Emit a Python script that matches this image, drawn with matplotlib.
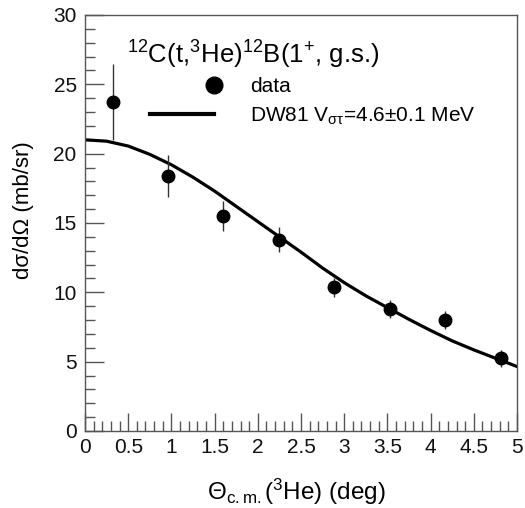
import numpy as np
import matplotlib
matplotlib.use("Agg")
import matplotlib.pyplot as plt
from matplotlib.lines import Line2D
from matplotlib.legend_handler import HandlerLine2D
from matplotlib.ticker import MultipleLocator, FuncFormatter

plt.rcParams['font.family'] = ['Liberation Sans', 'DejaVu Sans']
plt.rcParams['mathtext.fontset'] = 'custom'
plt.rcParams['mathtext.rm'] = 'Liberation Sans'
plt.rcParams['mathtext.it'] = 'Liberation Sans'
plt.rcParams['mathtext.default'] = 'regular'

# data points
theta = [0.32, 0.96, 1.60, 2.25, 2.88, 3.53, 4.17, 4.82]
xsec = [23.7, 18.4, 15.5, 13.8, 10.35, 8.8, 8.0, 5.25]
xsec_err = [2.75, 1.5, 1.1, 0.9, 0.7, 0.65, 0.65, 0.6]

# DW81 curve
curve_theta = [0.0, 0.25, 0.5, 0.75, 1.0, 1.25, 1.5, 1.75, 2.0, 2.25, 2.5,
               2.75, 3.0, 3.25, 3.5, 3.75, 4.0, 4.25, 4.5, 4.75, 5.0]
curve_xsec = [21.0, 20.9, 20.55, 19.95, 19.2, 18.3, 17.3, 16.2, 15.1, 14.0, 12.9,
              11.75, 10.7, 9.75, 8.9, 8.05, 7.25, 6.5, 5.85, 5.25, 4.65]

title = r'$^{12}$C(t,$^{3}$He)$^{12}$B(1$^{+}$, g.s.)'
label_data = 'data'
label_curve = r'DW81 V$_{\mathregular{στ}}$=4.6$\pm$0.1 MeV'

fig = plt.figure(figsize=(5.25, 5.08), dpi=100)
ax = fig.add_axes([85/525, 1-431/508, (517-85)/525, (431-15)/508])

ax.errorbar(theta, xsec, yerr=xsec_err, fmt='o', color='black', ms=9,
            ecolor='#333333', elinewidth=1.0, capsize=0, zorder=3)
ax.plot(curve_theta, curve_xsec, color='black', lw=2.3, zorder=2)

ax.set_xlim(0, 5)
ax.set_ylim(0, 30)
ax.xaxis.set_major_locator(MultipleLocator(0.5))
ax.xaxis.set_minor_locator(MultipleLocator(0.1))
ax.yaxis.set_major_locator(MultipleLocator(5))
ax.yaxis.set_minor_locator(MultipleLocator(1))
ax.xaxis.set_major_formatter(FuncFormatter(lambda v, p: '%g' % v))
ax.yaxis.set_major_formatter(FuncFormatter(lambda v, p: '%g' % v))
ax.tick_params(axis='both', which='both', direction='in', color='#555555',
               width=1.0, labelsize=15, labelcolor='#111111')
ax.tick_params(axis='x', which='major', length=13, pad=5)
ax.tick_params(axis='x', which='minor', length=7)
ax.tick_params(axis='y', which='major', length=14, pad=6)
ax.tick_params(axis='y', which='minor', length=7)
for s in ax.spines.values():
    s.set_color('#555555')
    s.set_linewidth(1.0)

ax.set_xlabel('Θ$_{c.m.}$($^{3}$He) (deg)', fontsize=17.5)
ax.set_ylabel('dσ/dΩ (mb/sr)', fontsize=16)
ax.yaxis.set_label_coords(-0.118, 0.531)
ax.xaxis.set_label_coords(0.49, -0.110)

ax.text(0.097, 0.905, title, transform=ax.transAxes, fontsize=18.5,
        ha='left', va='center')


class RightMarker(HandlerLine2D):
    def get_xdata(self, legend, xdescent, ydescent, width, height, fontsize):
        xe = -xdescent + width
        return np.array([xe - 1.0, xe + 1.0]), np.array([xe])


h_data = Line2D([], [], marker='o', ls='none', color='black', ms=12)
h_curve = Line2D([], [], color='black', lw=3)
leg = ax.legend([h_data, h_curve], [label_data, label_curve],
                loc='upper left', bbox_to_anchor=(0.150, 0.850), frameon=False,
                fontsize=15, handlelength=3.1, handletextpad=1.7,
                labelspacing=0.45, numpoints=1, borderpad=0, borderaxespad=0,
                handler_map={h_data: RightMarker(numpoints=1)})

fig.savefig('out.png', dpi=100)
